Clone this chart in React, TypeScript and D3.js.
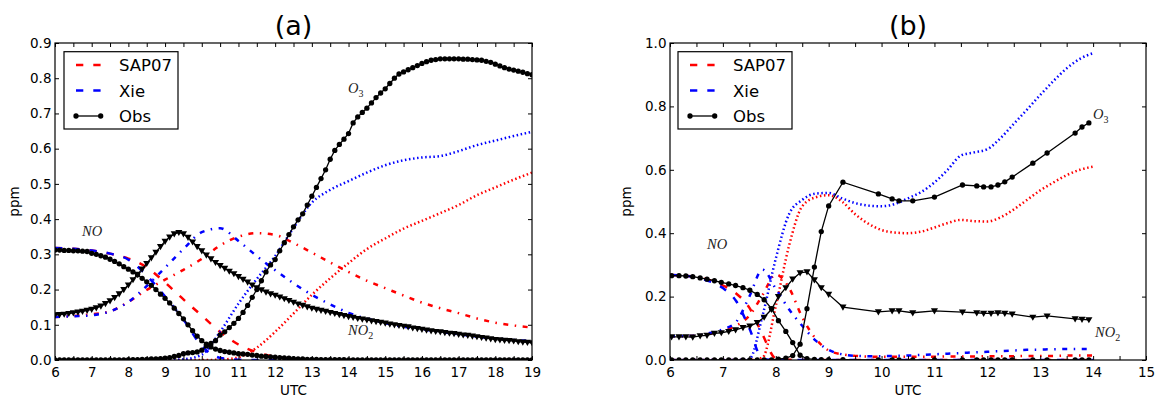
import React, { useRef, useEffect } from "react";
import * as d3 from "d3";

const FONT = "DejaVu Sans, sans-serif";
const SERIF = "Liberation Serif, serif";

// ---- panel (a) ----
// observations every 7.5 min from 06:00 to 19:00
const obsTimesA = d3.range(6, 19.001, 0.125);
const obsO3A = [
    0, 0, 0, 0, 0, 0, 0, 0,
    0, 0, 0, 0, 0, 0, 0, 0,
    0.001, 0.001, 0.001, 0.002, 0.002, 0.003, 0.003, 0.004,
    0.005, 0.007, 0.01, 0.013, 0.018, 0.02, 0.021, 0.023,
    0.028, 0.04, 0.047, 0.055, 0.071, 0.08, 0.092, 0.104,
    0.118, 0.135, 0.155, 0.178, 0.2, 0.225, 0.25, 0.27,
    0.285, 0.31, 0.333, 0.356, 0.378, 0.398, 0.415, 0.44,
    0.465, 0.49, 0.515, 0.54, 0.57, 0.595, 0.612, 0.627,
    0.643, 0.673, 0.69, 0.703, 0.715, 0.73, 0.745, 0.758,
    0.77, 0.785, 0.8, 0.812, 0.818, 0.824, 0.83, 0.836,
    0.842, 0.847, 0.851, 0.853, 0.855, 0.855, 0.855, 0.855,
    0.855, 0.854, 0.854, 0.853, 0.852, 0.851, 0.848, 0.845,
    0.84, 0.835, 0.83, 0.826, 0.823, 0.82, 0.817, 0.813,
    0.81,
];
const obsNOA = [
    0.312, 0.312, 0.311, 0.311, 0.31, 0.31, 0.309, 0.308,
    0.303, 0.3, 0.296, 0.292, 0.286, 0.28, 0.273, 0.265,
    0.258, 0.25, 0.242, 0.232, 0.222, 0.212, 0.2, 0.187,
    0.175, 0.162, 0.147, 0.132, 0.117, 0.1, 0.083, 0.068,
    0.055, 0.045, 0.037, 0.031, 0.027, 0.024, 0.022, 0.02,
    0.018, 0.017, 0.016, 0.014, 0.013, 0.011, 0.01, 0.009,
    0.008, 0.007, 0.006, 0.005, 0.004, 0.003, 0.003, 0.002,
    0.002, 0.002, 0.001, 0.001, 0.001, 0.001, 0.001, 0.001,
    0, 0, 0, 0, 0, 0, 0, 0,
    0, 0, 0, 0, 0, 0, 0, 0,
    0, 0, 0, 0, 0, 0, 0, 0,
    0, 0, 0, 0, 0, 0, 0, 0,
    0, 0, 0, 0, 0, 0, 0, 0,
    0,
];
const obsNO2A = [
    0.128, 0.129, 0.13, 0.132, 0.134, 0.136, 0.138, 0.141,
    0.144, 0.148, 0.153, 0.16, 0.168, 0.177, 0.188, 0.2,
    0.213, 0.228, 0.243, 0.258, 0.274, 0.29, 0.306, 0.322,
    0.337, 0.349, 0.358, 0.362, 0.358, 0.348, 0.335, 0.322,
    0.31, 0.298, 0.287, 0.277, 0.268, 0.26, 0.252, 0.245,
    0.237, 0.229, 0.221, 0.213, 0.205, 0.199, 0.193, 0.188,
    0.184, 0.179, 0.174, 0.169, 0.164, 0.159, 0.155, 0.151,
    0.147, 0.144, 0.141, 0.138, 0.135, 0.132, 0.129, 0.126,
    0.123, 0.121, 0.118, 0.116, 0.114, 0.111, 0.109, 0.107,
    0.105, 0.102, 0.1, 0.098, 0.096, 0.094, 0.091, 0.089,
    0.087, 0.085, 0.083, 0.081, 0.08, 0.078, 0.076, 0.075,
    0.073, 0.071, 0.07, 0.068, 0.066, 0.064, 0.062, 0.06,
    0.058, 0.057, 0.056, 0.055, 0.054, 0.052, 0.051, 0.05,
    0.049,
];
// model output every half hour
const modelTimesA = d3.range(6, 19.001, 0.5);
const sapNOA = [0.318, 0.316, 0.311, 0.302, 0.288, 0.263, 0.22, 0.172, 0.126, 0.08, 0.044, 0.022, 0.009, 0.003, 0.001, 0, 0, 0, 0, 0, 0, 0, 0, 0, 0, 0, 0];
const xieNOA = [0.318, 0.316, 0.311, 0.302, 0.285, 0.24, 0.18, 0.115, 0.04, 0.006, 0.001, 0, 0, 0, 0, 0, 0, 0, 0, 0, 0, 0, 0, 0, 0, 0, 0];
const sapNO2A = [0.122, 0.125, 0.13, 0.138, 0.165, 0.199, 0.228, 0.256, 0.287, 0.325, 0.35, 0.36, 0.355, 0.332, 0.305, 0.277, 0.25, 0.225, 0.204, 0.183, 0.163, 0.147, 0.133, 0.118, 0.106, 0.098, 0.092];
const xieNO2A = [0.122, 0.124, 0.127, 0.138, 0.165, 0.21, 0.262, 0.315, 0.363, 0.374, 0.338, 0.295, 0.255, 0.218, 0.185, 0.158, 0.134, 0.117, 0.105, 0.094, 0.087, 0.08, 0.073, 0.066, 0.061, 0.057, 0.054];
const sapO3A = [0, 0, 0, 0, 0, 0, 0, 0, 0, 0.001, 0.008, 0.035, 0.08, 0.132, 0.185, 0.232, 0.275, 0.315, 0.345, 0.373, 0.395, 0.417, 0.44, 0.468, 0.49, 0.512, 0.532];
const xieO3A = [0, 0, 0, 0, 0, 0, 0, 0.002, 0.015, 0.08, 0.16, 0.23, 0.295, 0.375, 0.447, 0.483, 0.508, 0.532, 0.553, 0.567, 0.575, 0.579, 0.593, 0.61, 0.623, 0.636, 0.648];
const yTicksA = [0, 0.1, 0.2, 0.3, 0.4, 0.5, 0.6, 0.7, 0.8, 0.9];

// ---- panel (b) ----
const obsTimesB = [6.03, 6.17, 6.3, 6.43, 6.57, 6.7, 6.84, 6.97, 7.11, 7.24, 7.38, 7.51, 7.65, 7.78, 7.92, 8.05, 8.19, 8.32, 8.46, 8.59, 8.73, 8.86, 9.0, 9.27, 9.94, 10.2, 10.33, 10.59, 11.0, 11.53, 11.8, 11.93, 12.07, 12.2, 12.33, 12.47, 12.86, 13.13, 13.66, 13.79, 13.92];
const obsO3B = [0, 0, 0, 0, 0, 0, 0, 0, 0, 0, 0, 0, 0, 0, 0, 0.003, 0.006, 0.014, 0.05, 0.162, 0.293, 0.405, 0.486, 0.561, 0.524, 0.508, 0.502, 0.502, 0.514, 0.552, 0.549, 0.546, 0.546, 0.552, 0.562, 0.577, 0.621, 0.653, 0.716, 0.735, 0.748];
const obsNOB = [0.266, 0.266, 0.265, 0.263, 0.259, 0.255, 0.25, 0.245, 0.24, 0.235, 0.228, 0.22, 0.207, 0.19, 0.162, 0.124, 0.09, 0.055, 0.015, 0.004, 0.002, 0.001, 0.001, 0.001, 0, 0, 0, 0, 0, 0, 0, 0, 0, 0, 0, 0, 0, 0, 0, 0, 0];
const obsNO2B = [0.073, 0.073, 0.073, 0.072, 0.076, 0.078, 0.084, 0.086, 0.09, 0.095, 0.102, 0.107, 0.118, 0.135, 0.16, 0.2, 0.228, 0.255, 0.275, 0.278, 0.253, 0.228, 0.207, 0.167, 0.152, 0.155, 0.155, 0.149, 0.155, 0.151, 0.149, 0.147, 0.147, 0.149, 0.147, 0.145, 0.135, 0.139, 0.13, 0.128, 0.127];
const modelTimesB = d3.range(6, 14.001, 0.25);
const sapO3B = [0, 0, 0, 0, 0, 0, 0, 0.008, 0.17, 0.36, 0.485, 0.513, 0.52, 0.5, 0.46, 0.43, 0.41, 0.402, 0.4, 0.405, 0.418, 0.432, 0.442, 0.438, 0.437, 0.45, 0.475, 0.505, 0.535, 0.56, 0.583, 0.6, 0.61];
const xieO3B = [0, 0, 0, 0, 0, 0, 0.003, 0.14, 0.32, 0.46, 0.505, 0.525, 0.527, 0.51, 0.495, 0.487, 0.485, 0.492, 0.51, 0.53, 0.56, 0.6, 0.645, 0.655, 0.665, 0.7, 0.745, 0.79, 0.836, 0.88, 0.92, 0.95, 0.968];
const sapNOB = [0.268, 0.266, 0.262, 0.252, 0.235, 0.21, 0.165, 0.08, 0.005, 0.001, 0, 0, 0, 0, 0, 0, 0, 0, 0, 0, 0, 0, 0, 0, 0, 0, 0, 0, 0, 0, 0, 0, 0];
const xieNOB = [0.268, 0.266, 0.26, 0.248, 0.227, 0.186, 0.1, 0.003, 0, 0, 0, 0, 0, 0, 0, 0, 0, 0, 0, 0, 0, 0, 0, 0, 0, 0, 0, 0, 0, 0, 0, 0, 0];
const sapNO2B = [0.075, 0.075, 0.077, 0.083, 0.092, 0.108, 0.14, 0.205, 0.27, 0.228, 0.135, 0.068, 0.03, 0.018, 0.013, 0.011, 0.01, 0.01, 0.01, 0.01, 0.01, 0.011, 0.011, 0.011, 0.012, 0.012, 0.012, 0.013, 0.013, 0.013, 0.014, 0.014, 0.014];
const xieNO2B = [0.075, 0.075, 0.077, 0.085, 0.097, 0.12, 0.2, 0.285, 0.225, 0.16, 0.108, 0.062, 0.032, 0.018, 0.013, 0.012, 0.012, 0.013, 0.014, 0.016, 0.018, 0.02, 0.022, 0.024, 0.026, 0.028, 0.03, 0.032, 0.033, 0.034, 0.035, 0.035, 0.035];
const yTicksB = [0, 0.2, 0.4, 0.6, 0.8, 1.0];

const legendNames = ["SAP07", "Xie", "Obs"];

const RED = "#ff0000";
const BLUE = "#0000ff";
const DASHED = "7.3,10";
const DOTTED = "1.5,2.6";
const DASHDOT = "5,6.5,1.5,6.5";

type Series = { t: number[]; v: number[]; color?: string; dash?: string; marker?: "circle" | "tri" };
type Label = { x: number; y: number; base: string; sub?: string };
interface PanelSpec {
    id: string;
    title: string;
    left: number;
    right: number;
    top: number;
    bottom: number;
    xMax: number;
    yMax: number;
    yTicks: number[];
    models: Series[];
    obs: Series[];
    labels: Label[];
    legendX: number;
    ylabelX: number;
}

const panelA: PanelSpec = {
    id: "pa",
    title: "(a)",
    left: 55,
    right: 532,
    top: 43,
    bottom: 360,
    xMax: 19,
    yMax: 0.9,
    yTicks: yTicksA,
    models: [
        { t: modelTimesA, v: sapNOA, color: RED, dash: DASHED },
        { t: modelTimesA, v: sapNO2A, color: RED, dash: DASHDOT },
        { t: modelTimesA, v: sapO3A, color: RED, dash: DOTTED },
        { t: modelTimesA, v: xieNOA, color: BLUE, dash: DASHED },
        { t: modelTimesA, v: xieNO2A, color: BLUE, dash: DASHDOT },
        { t: modelTimesA, v: xieO3A, color: BLUE, dash: DOTTED },
    ],
    obs: [
        { t: obsTimesA, v: obsNOA, marker: "circle" },
        { t: obsTimesA, v: obsNO2A, marker: "tri" },
        { t: obsTimesA, v: obsO3A, marker: "circle" },
    ],
    labels: [
        { x: 82, y: 236, base: "NO" },
        { x: 348, y: 93, base: "O", sub: "3" },
        { x: 348, y: 335, base: "NO", sub: "2" },
    ],
    legendX: 64,
    ylabelX: 18.5,
};

const panelB: PanelSpec = {
    id: "pb",
    title: "(b)",
    left: 670,
    right: 1146,
    top: 43,
    bottom: 360,
    xMax: 15,
    yMax: 1.0,
    yTicks: yTicksB,
    models: [
        { t: modelTimesB, v: sapNOB, color: RED, dash: DASHED },
        { t: modelTimesB, v: sapNO2B, color: RED, dash: DASHDOT },
        { t: modelTimesB, v: sapO3B, color: RED, dash: DOTTED },
        { t: modelTimesB, v: xieNOB, color: BLUE, dash: DASHED },
        { t: modelTimesB, v: xieNO2B, color: BLUE, dash: DASHDOT },
        { t: modelTimesB, v: xieO3B, color: BLUE, dash: DOTTED },
    ],
    obs: [
        { t: obsTimesB, v: obsNOB, marker: "circle" },
        { t: obsTimesB, v: obsNO2B, marker: "tri" },
        { t: obsTimesB, v: obsO3B, marker: "circle" },
    ],
    labels: [
        { x: 707, y: 249, base: "NO" },
        { x: 1093, y: 119, base: "O", sub: "3" },
        { x: 1095, y: 337, base: "NO", sub: "2" },
    ],
    legendX: 678,
    ylabelX: 631,
};

const circleSym = d3.symbol().type(d3.symbolCircle).size(22);
const triSym = d3.symbol().type(d3.symbolTriangle).size(22);

function drawPanel(svg: d3.Selection<SVGSVGElement, unknown, null, undefined>, p: PanelSpec) {
    const x = d3.scaleLinear().domain([6, p.xMax]).range([p.left, p.right]);
    const y = d3.scaleLinear().domain([0, p.yMax]).range([p.bottom, p.top]);
    const g = svg.append("g");

    g.append("clipPath")
        .attr("id", "clip-" + p.id)
        .append("rect")
        .attr("x", p.left)
        .attr("y", p.top)
        .attr("width", p.right - p.left)
        .attr("height", p.bottom - p.top);

    const plot = g.append("g").attr("clip-path", `url(#clip-${p.id})`);

    const smooth = d3
        .line<[number, number]>()
        .x((d) => x(d[0]))
        .y((d) => y(d[1]))
        .curve(d3.curveMonotoneX);
    const straight = d3
        .line<[number, number]>()
        .x((d) => x(d[0]))
        .y((d) => y(d[1]));

    p.models.forEach((s) => {
        plot.append("path")
            .datum(s.t.map((t, i) => [t, s.v[i]] as [number, number]))
            .attr("d", smooth)
            .attr("fill", "none")
            .attr("stroke", s.color!)
            .attr("stroke-width", 2.5)
            .attr("stroke-dasharray", s.dash!);
    });

    p.obs.forEach((s) => {
        const pts = s.t.map((t, i) => [t, s.v[i]] as [number, number]);
        plot.append("path")
            .datum(pts)
            .attr("d", straight)
            .attr("fill", "none")
            .attr("stroke", "#000")
            .attr("stroke-width", 1.3);
        plot.selectAll(null)
            .data(pts)
            .enter()
            .append("path")
            .attr("d", s.marker === "tri" ? triSym() : circleSym())
            .attr("transform", (d) =>
                s.marker === "tri"
                    ? `translate(${x(d[0])},${y(d[1]) - 0.5}) rotate(180)`
                    : `translate(${x(d[0])},${y(d[1])})`
            )
            .attr("fill", "#000");
    });

    // species labels
    p.labels.forEach((l) => {
        const t = g.append("text")
            .attr("x", l.x)
            .attr("y", l.y)
            .attr("font-family", SERIF)
            .attr("font-style", "italic")
            .attr("font-size", 14.5)
            .attr("fill", "#222")
            .text(l.base);
        if (l.sub) {
            t.append("tspan")
                .attr("font-style", "normal")
                .attr("font-size", 10)
                .attr("dy", 3.5)
                .text(l.sub);
        }
    });

    // axes, ticks pointing inward on all four sides
    const xTicks = d3.range(6, p.xMax + 0.01, 0.5);
    const styleAxis = (a: d3.Selection<SVGGElement, unknown, null, undefined>) => {
        a.select(".domain").remove();
        a.selectAll("line").attr("stroke", "#000");
        a.attr("font-family", FONT).attr("font-size", 13.5);
        a.selectAll("text").attr("fill", "#000");
    };
    g.append("g")
        .attr("transform", `translate(0,${p.bottom})`)
        .call(
            d3.axisBottom(x)
                .tickValues(xTicks)
                .tickSize(-4)
                .tickPadding(7)
                .tickFormat((d) => (Number.isInteger(+d) ? String(d) : ""))
        )
        .call(styleAxis);
    g.append("g")
        .attr("transform", `translate(0,${p.top})`)
        .call(d3.axisTop(x).tickValues(xTicks).tickSize(-4).tickFormat(() => ""))
        .call(styleAxis);
    g.append("g")
        .attr("transform", `translate(${p.left},0)`)
        .call(d3.axisLeft(y).tickValues(p.yTicks).tickSize(-4).tickPadding(3.5).tickFormat(d3.format(".1f")))
        .call(styleAxis);
    g.append("g")
        .attr("transform", `translate(${p.right},0)`)
        .call(d3.axisRight(y).tickValues(p.yTicks).tickSize(-4).tickFormat(() => ""))
        .call(styleAxis);

    g.append("rect")
        .attr("x", p.left)
        .attr("y", p.top)
        .attr("width", p.right - p.left)
        .attr("height", p.bottom - p.top)
        .attr("fill", "none")
        .attr("stroke", "#000")
        .attr("stroke-width", 1.2);

    // title and axis labels
    g.append("text")
        .attr("x", (p.left + p.right) / 2)
        .attr("y", 35)
        .attr("text-anchor", "middle")
        .attr("font-family", FONT)
        .attr("font-size", 27)
        .text(p.title);
    g.append("text")
        .attr("x", (p.left + p.right) / 2)
        .attr("y", 394.5)
        .attr("text-anchor", "middle")
        .attr("font-family", FONT)
        .attr("font-size", 13.5)
        .text("UTC");
    g.append("text")
        .attr("transform", `translate(${p.ylabelX},${(p.top + p.bottom) / 2}) rotate(-90)`)
        .attr("text-anchor", "middle")
        .attr("font-family", FONT)
        .attr("font-size", 13.5)
        .text("ppm");

    // legend
    const lg = g.append("g").attr("transform", `translate(${p.legendX},51.7)`);
    lg.append("rect")
        .attr("width", 114)
        .attr("height", 77.3)
        .attr("fill", "#fff")
        .attr("stroke", "#000")
        .attr("stroke-width", 1.2);
    legendNames.forEach((name, i) => {
        const cy = 13.3 + i * 25.5;
        const row = lg.append("g").attr("transform", `translate(0,${cy})`);
        const isObs = name === "Obs";
        row.append("line")
            .attr("x1", 12)
            .attr("x2", 36.7)
            .attr("stroke", isObs ? "#000" : i === 0 ? RED : BLUE)
            .attr("stroke-width", isObs ? 1.3 : 2.5)
            .attr("stroke-dasharray", isObs ? null : DASHED);
        if (isObs) {
            [12, 36.7].forEach((mx) =>
                row.append("path").attr("d", circleSym()).attr("transform", `translate(${mx},0)`).attr("fill", "#000")
            );
        }
        row.append("text")
            .attr("x", 55)
            .attr("y", 6.3)
            .attr("font-family", FONT)
            .attr("font-size", 16.5)
            .text(name);
    });
}

const App: React.FC = () => {
    const svgRef = useRef<SVGSVGElement | null>(null);

    useEffect(() => {
        if (svgRef.current) {
            const svg = d3.select(svgRef.current);
            svg.selectAll("*").remove();
            drawPanel(svg, panelA);
            drawPanel(svg, panelB);
        }
    }, []);

    return (
        <div style={{ position: "absolute", left: 0, top: 0 }}>
            <svg ref={svgRef} width={1156} height={396} style={{ display: "block", background: "#fff" }}></svg>
        </div>
    );
};

export default App;
